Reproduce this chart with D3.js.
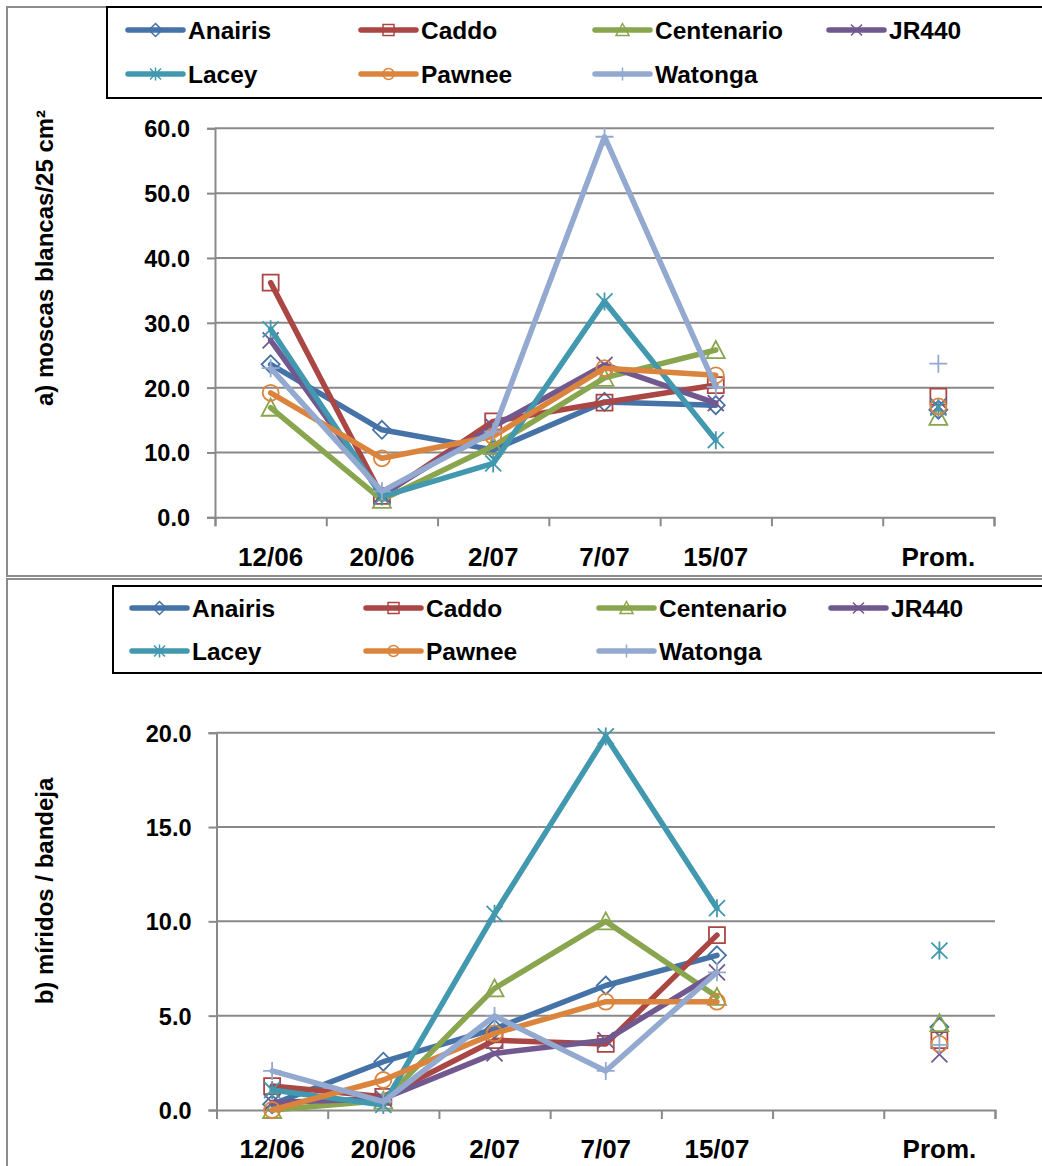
<!DOCTYPE html>
<html>
<head>
<meta charset="utf-8">
<script src="https://cdn.jsdelivr.net/npm/d3@7"></script>
<style>
  html, body { margin: 0; padding: 0; background: #fff; }
  svg { display: block; }
  text { font-family: "Liberation Sans", Arial, sans-serif; font-weight: bold; fill: #000; }
</style>
</head>
<body>
<svg id="chart" width="1042" height="1166"></svg>
<script>
// Sampling dates plus an empty slot and the mean column
const categories = ["12/06", "20/06", "2/07", "7/07", "15/07", "", "Prom."];
const dates = ["12/06", "20/06", "2/07", "7/07", "15/07"];
const cultivars = ["Anairis", "Caddo", "Centenario", "JR440", "Lacey", "Pawnee", "Watonga"];
const colors = ["#4572A7", "#AA4643", "#89A54E", "#71588F", "#4198AF", "#DB843D", "#93A9CF"];
const markers = ["diamond", "square", "triangle", "x", "asterisk", "circle", "plus"];

// a) whiteflies per 25 cm², one array per cultivar (by date)
const wfAnairis    = [23.6, 13.5, 10.4, 17.8, 17.3];
const wfCaddo      = [36.2, 3.3, 14.8, 17.7, 20.4];
const wfCentenario = [16.9, 2.7, 11.0, 21.5, 25.8];
const wfJR440      = [27.3, 3.5, 14.0, 23.5, 17.6];
const wfLacey      = [29.0, 3.2, 8.3, 33.3, 11.9];
const wfPawnee     = [19.2, 9.1, 12.5, 23.0, 21.9];
const wfWatonga    = [23.0, 4.0, 13.2, 58.7, 20.1];
const wfMeans      = [16.6, 18.6, 15.5, 17.1, 16.9, 17.1, 23.7];
const wfTicks      = [0, 10, 20, 30, 40, 50, 60];

// b) mirids per tray
const mAnairis    = [0.3, 2.56, 4.3, 6.6, 8.2];
const mCaddo      = [1.27, 0.7, 3.7, 3.5, 9.27];
const mCentenario = [0.0, 0.5, 6.45, 10.0, 6.0];
const mJR440      = [0.4, 0.6, 3.0, 3.7, 7.3];
const mLacey      = [1.06, 0.27, 10.4, 19.8, 10.7];
const mPawnee     = [0.0, 1.59, 4.06, 5.74, 5.74];
const mWatonga    = [2.07, 0.44, 4.98, 2.07, 7.3];
const mMeans      = [4.4, 3.7, 4.6, 2.95, 8.45, 3.5, 3.45];
const mTicks      = [0, 5, 10, 15, 20];

const svg = d3.select("#chart");
const GRID = "#898989";

// Marker outlines, centred on (0,0)
function markerPath(type, s) {
  const h = s / 2;
  switch (type) {
    case "diamond": return `M0,${-h - 1}L${h + 1},0L0,${h + 1}L${-h - 1},0Z`;
    case "square": return `M${-h},${-h}H${h}V${h}H${-h}Z`;
    case "triangle": return `M0,${-h - 1}L${h + 1},${h}L${-h - 1},${h}Z`;
    case "x": return `M${-h},${-h}L${h},${h}M${-h},${h}L${h},${-h}`;
    case "asterisk": return `M${-h},${-h}L${h},${h}M${-h},${h}L${h},${-h}M0,${-h - 1}V${h + 1}`;
    case "plus": return `M${-h - 1},0H${h + 1}M0,${-h - 1}V${h + 1}`;
    case "circle": return `M${h},0A${h},${h} 0 1,1 ${-h},0A${h},${h} 0 1,1 ${h},0Z`;
  }
}

function drawPanel(cfg) {
  const g = svg.append("g");

  // outer chart frame
  g.append("rect")
    .attr("x", cfg.frame[0]).attr("y", cfg.frame[1])
    .attr("width", cfg.frame[2]).attr("height", cfg.frame[3])
    .attr("fill", "none").attr("stroke", "#8c8c8c").attr("stroke-width", 2);

  const x = d3.scaleBand().domain(categories).range([cfg.left, cfg.right]).padding(0);
  const bw = x.bandwidth();
  const cx = c => x(c) + bw / 2;
  const y = d3.scaleLinear().domain([0, d3.max(cfg.ticks)]).range([cfg.bottom, cfg.top]);

  // horizontal gridlines
  g.append("g").selectAll("line").data(cfg.ticks.filter(t => t > 0)).join("line")
    .attr("x1", cfg.left).attr("x2", cfg.right)
    .attr("y1", d => y(d)).attr("y2", d => y(d))
    .attr("stroke", GRID).attr("stroke-width", 2);

  // y axis
  const yAxis = g.append("g").attr("transform", `translate(${cfg.left},0)`)
    .call(d3.axisLeft(y).tickValues(cfg.ticks).tickFormat(d3.format(".1f")).tickSize(8).tickPadding(17));
  yAxis.select(".domain").attr("stroke", GRID).attr("stroke-width", 2);
  yAxis.selectAll(".tick line").attr("stroke", GRID).attr("stroke-width", 2);
  yAxis.selectAll("text").style("font-size", "23.5px").attr("dy", "0.36em");

  // x axis: boundary ticks plus centred category labels
  const xEdges = d3.scaleLinear().domain([0, categories.length]).range([cfg.left, cfg.right]);
  const xTicks = g.append("g").attr("transform", `translate(0,${cfg.bottom})`)
    .call(d3.axisBottom(xEdges).tickValues(d3.range(categories.length + 1)).tickFormat("").tickSize(9));
  xTicks.select(".domain").attr("stroke", GRID).attr("stroke-width", 2);
  xTicks.selectAll(".tick line").attr("stroke", GRID).attr("stroke-width", 2);

  const xLabels = g.append("g").attr("transform", `translate(0,${cfg.bottom})`)
    .call(d3.axisBottom(x).tickSize(0).tickPadding(30));
  xLabels.select(".domain").remove();
  xLabels.selectAll("text").style("font-size", "26px");

  // y title
  g.append("text")
    .attr("transform", `translate(${cfg.titleX},${cfg.titleY}) rotate(-90)`)
    .attr("text-anchor", "middle")
    .style("font-size", "24px")
    .text(cfg.title);

  // series lines and markers
  const line = d3.line().x((d, i) => cx(dates[i])).y(d => y(d));
  cfg.series.forEach((vals, si) => {
    const sg = g.append("g");
    sg.append("path").datum(vals).attr("d", line)
      .attr("fill", "none").attr("stroke", colors[si]).attr("stroke-width", 5.5)
      .attr("stroke-linejoin", "round").attr("stroke-linecap", "round");
    sg.selectAll("path.m").data(vals).join("path").attr("class", "m")
      .attr("transform", (d, i) => `translate(${cx(dates[i])},${y(d)})`)
      .attr("d", markerPath(markers[si], 16))
      .attr("fill", "none").attr("stroke", colors[si]).attr("stroke-width", 1.8);
  });
  // mean column markers
  g.append("g").selectAll("path").data(cfg.means).join("path")
    .attr("transform", d => `translate(${cx("Prom.")},${y(d)})`)
    .attr("d", (d, i) => markerPath(markers[i], 16))
    .attr("fill", "none").attr("stroke", (d, i) => colors[i]).attr("stroke-width", 1.8);

  // legend box
  const lg = g.append("g");
  lg.append("rect")
    .attr("x", cfg.legend[0]).attr("y", cfg.legend[1])
    .attr("width", cfg.legend[2]).attr("height", cfg.legend[3])
    .attr("fill", "#fff").attr("stroke", "#000").attr("stroke-width", 2);
  const items = lg.selectAll("g.item").data(cultivars).join("g").attr("class", "item")
    .attr("transform", (d, i) => `translate(${cfg.legCols[i % 4]},${cfg.legRows[Math.floor(i / 4)]})`);
  items.append("line").attr("x1", 0).attr("x2", 55).attr("y1", 0).attr("y2", 0)
    .attr("stroke", (d, i) => colors[i]).attr("stroke-width", 5.5).attr("stroke-linecap", "round");
  items.append("path").attr("transform", "translate(27.5,0)")
    .attr("d", (d, i) => markerPath(markers[i], 11))
    .attr("fill", "none").attr("stroke", (d, i) => colors[i]).attr("stroke-width", 1.5);
  items.append("text").attr("x", 60).attr("dy", "0.36em").style("font-size", "24.5px").text(d => d);
}

drawPanel({
  frame: [7, 7, 1060, 569],
  left: 215, right: 994, top: 128.3, bottom: 517.3,
  ticks: wfTicks,
  series: [wfAnairis, wfCaddo, wfCentenario, wfJR440, wfLacey, wfPawnee, wfWatonga],
  means: wfMeans,
  title: "a) moscas blancas/25 cm²", titleX: 53, titleY: 258,
  legend: [107, 7, 960, 91], legCols: [128, 361, 595, 829], legRows: [30, 74]
});

drawPanel({
  frame: [7, 579, 1060, 620],
  left: 216.5, right: 995, top: 732.7, bottom: 1110,
  ticks: mTicks,
  series: [mAnairis, mCaddo, mCentenario, mJR440, mLacey, mPawnee, mWatonga],
  means: mMeans,
  title: "b) míridos / bandeja", titleX: 53, titleY: 891,
  legend: [113, 586, 960, 87], legCols: [132, 366, 599, 831], legRows: [608, 651]
});
</script>
</body>
</html>
